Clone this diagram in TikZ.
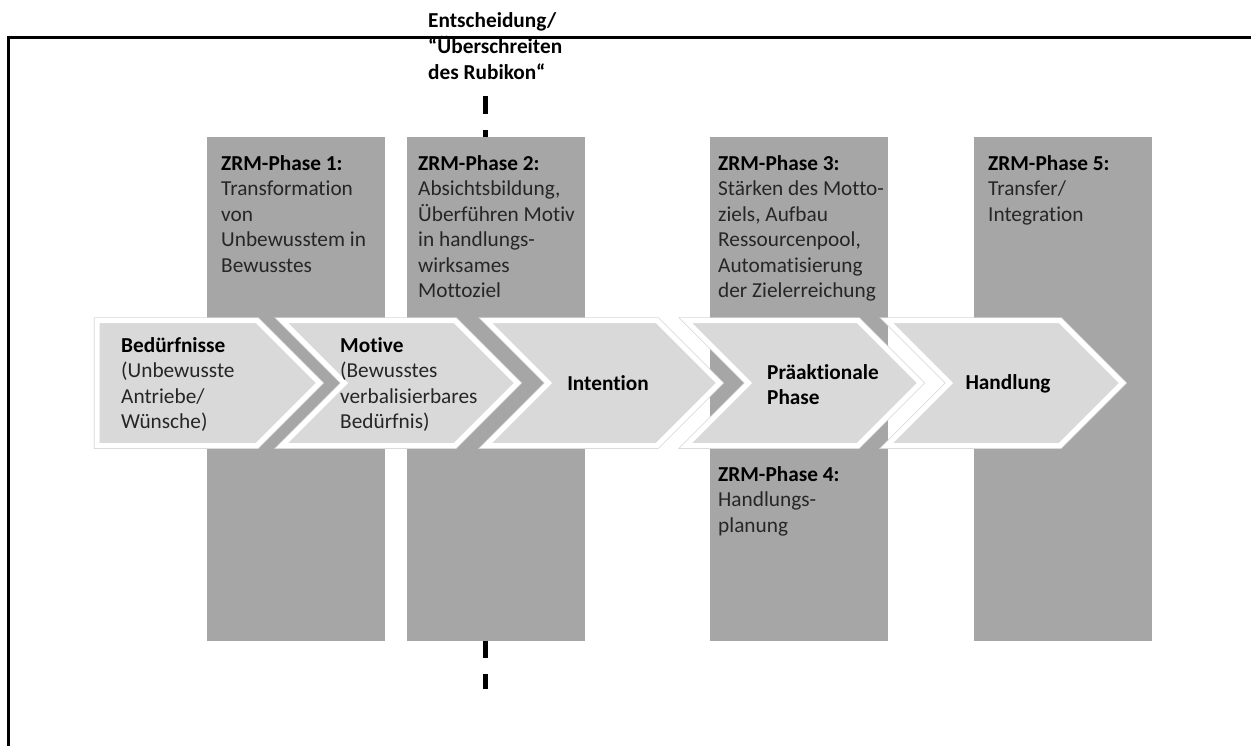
\documentclass[tikz,border=0pt]{standalone}
\usepackage{fontspec}
\setmainfont[Ligatures=NoCommon]{Carlito}
\definecolor{colgray}{HTML}{A6A6A6}
\definecolor{chevfill}{HTML}{D9D9D9}
\definecolor{txtgray}{HTML}{262626}
\begin{document}
\begin{tikzpicture}[x=1pt,y=-1pt,
  colbox/.style={fill=colgray},
  chevshadow/.style={draw=black!16, line width=6.5pt, line join=miter},
  chevbox/.style={draw=white, line width=5pt, fill=chevfill, line join=miter},
  txtblock/.style={anchor=north west, inner sep=0pt, align=left,
    font=\fontsize{21.3}{25.5}\selectfont, text=txtgray},
  boldlabel/.style={inner sep=0pt, font=\fontsize{21.3}{25.5}\selectfont\bfseries, text=black},
  rubikon/.style={line width=5pt, dash pattern=on 18pt off 16pt},
  frame/.style={line width=3pt, line join=miter}
]
\useasboundingbox (0,0) rectangle (1251,746);
\fill[white] (0,0) rectangle (1251,746);

% frame
\coordinate (fr1) at (1251,38);
\coordinate (fr0) at (8,38);
\coordinate (fr2) at (8,746);
\draw[frame] (fr1) -- (fr0) -- (fr2);

% decision line
\coordinate (dtop) at (485,96);
\coordinate (dbot) at (485,689);
\draw[rubikon] (dtop) -- (dbot);

% columns
\fill[colbox] (207,137) rectangle (385,641);
\fill[colbox] (407,137) rectangle (585,641);
\fill[colbox] (710,137) rectangle (888,641);
\fill[colbox] (974,137) rectangle (1152,641);

% chevrons
\def\chevA{(97,320.5) -- (257,320.5) -- (319.5,383) -- (257,445.5) -- (97,445.5) -- cycle}
\foreach \tl/\tr in {282/455, 486/657, 686/858, 887/1060}{
  \pgfmathsetmacro\nx{\tl+62.5}
  \pgfmathsetmacro\tx{\tr+62.5}
  \draw[chevshadow] (\tl,320.5) -- (\tr,320.5) -- (\tx,383) -- (\tr,445.5) -- (\tl,445.5) -- (\nx,383) -- cycle;
  \draw[chevbox] (\tl,320.5) -- (\tr,320.5) -- (\tx,383) -- (\tr,445.5) -- (\tl,445.5) -- (\nx,383) -- cycle;
}
\draw[chevshadow] \chevA;
\draw[chevbox] \chevA;

% label
\node[txtblock, text=black, font=\fontsize{21.3}{26}\selectfont\bfseries] (lab) at (428,12)
  {Entscheidung/\\“Überschreiten\\des Rubikon“};

% column texts
\node[txtblock] (p1) at (221,155) {\textcolor{black}{\bfseries ZRM-Phase 1:}\\Transformation\\von\\Unbewusstem in\\Bewusstes};
\node[txtblock] (p2) at (418,155) {\textcolor{black}{\bfseries ZRM-Phase 2:}\\Absichtsbildung,\\Überführen Motiv\\in handlungs-\\wirksames\\Mottoziel};
\node[txtblock] (p3) at (718,155) {\textcolor{black}{\bfseries ZRM-Phase 3:}\\Stärken des Motto-\\ziels, Aufbau\\Ressourcenpool,\\Automatisierung\\der Zielerreichung};
\node[txtblock] (p5) at (988,155) {\textcolor{black}{\bfseries ZRM-Phase 5:}\\Transfer/\\Integration};
\node[txtblock] (p4) at (718,466) {\textcolor{black}{\bfseries ZRM-Phase 4:}\\Handlungs-\\planung};

% chevron texts
\node[txtblock] (c1) at (121,337) {\textcolor{black}{\bfseries Bedürfnisse}\\(Unbewusste\\Antriebe/\\Wünsche)};
\node[txtblock] (c2) at (340,337) {\textcolor{black}{\bfseries Motive}\\(Bewusstes\\verbalisierbares\\Bedürfnis)};
\node[boldlabel, anchor=base] (c3) at (608,390) {Intention};
\node[txtblock, text=black, font=\fontsize{21.3}{25.5}\selectfont\bfseries] (c4) at (767,364) {Präaktionale\\Phase};
\node[boldlabel, anchor=base] (c5) at (1008,389) {Handlung};
\end{tikzpicture}
\end{document}
